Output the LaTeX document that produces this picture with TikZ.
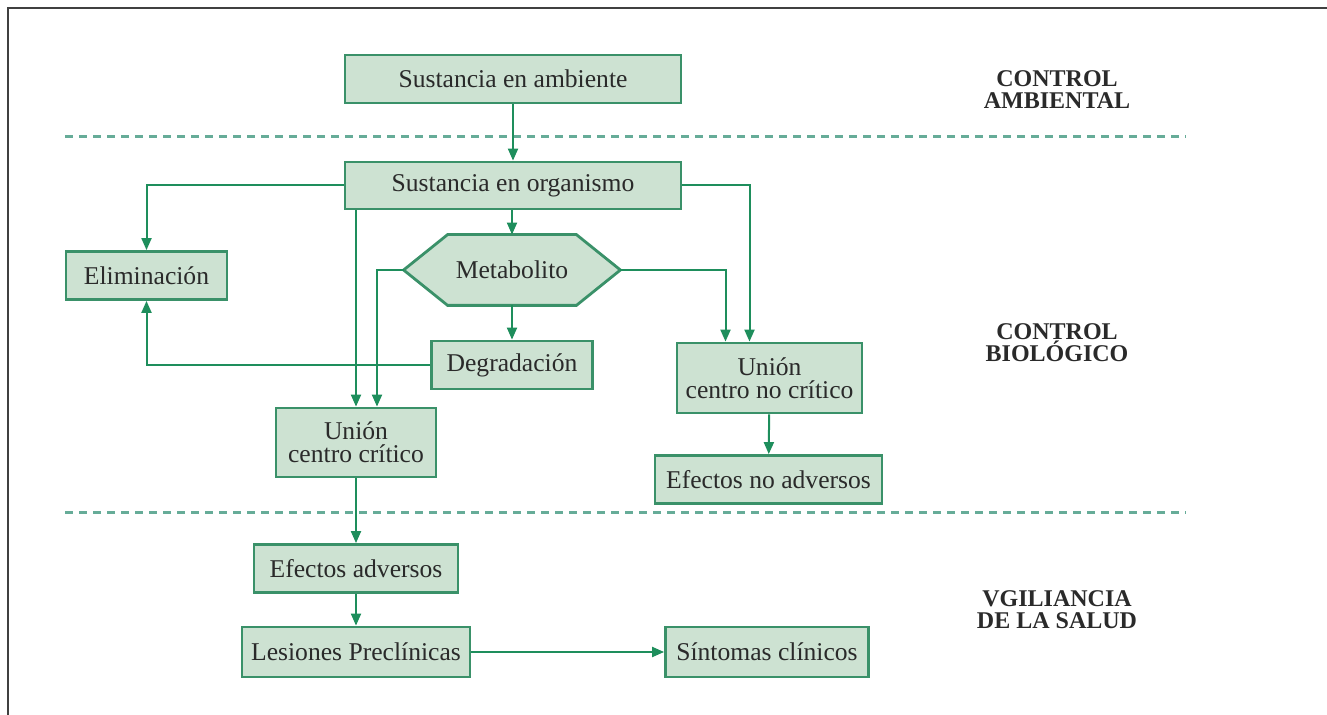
\documentclass[tikz,border=0pt]{standalone}
\usepackage{fontspec}
\setmainfont{Liberation Serif}
\usetikzlibrary{arrows.meta,backgrounds}
\definecolor{cajaBorde}{HTML}{3A9169}
\definecolor{cajaFondo}{HTML}{CDE2D2}
\definecolor{flechaVerde}{HTML}{1E8E5C}
\definecolor{rayaVerde}{HTML}{66AC98}
\definecolor{txtOscuro}{HTML}{2A2A2A}

\begin{document}
\begin{tikzpicture}[x=0.5pt, y=-0.5pt,
          caja/.style={draw=cajaBorde, line width=1.4pt, fill=cajaFondo, text=txtOscuro,
            font=\fontsize{12.8}{11.5}\selectfont, inner sep=2pt, minimum height=24pt, align=center},
          hexa/.style={text=txtOscuro, font=\fontsize{12.8}{11.5}\selectfont, inner sep=0pt,
            minimum width=108pt, minimum height=35pt},
          etiqueta/.style={text=txtOscuro, font=\fontsize{12}{11}\selectfont\bfseries, align=center},
          flecha/.style={-{Triangle[length=6pt,width=5pt]}, line width=1pt, flechaVerde},
          raya/.style={rayaVerde, line width=1.5pt, dash pattern=on 4pt off 3pt},
          marco/.style={draw=black!75, line width=1pt}]
        \useasboundingbox (0,0) rectangle (1327,715);
        \draw[marco] (8,715) -- (8,8) -- (1327,8);
        % separadores de zonas
        \draw[raya] (65,137) -- (1186,137);
        \draw[raya] (65,513) -- (1186,513);
        % etiquetas de zona
        \node[etiqueta] (zamb) at (1057,90) {CONTROL\\AMBIENTAL};
        \node[etiqueta] (zbio) at (1057,343) {CONTROL\\BIOLÓGICO};
        \node[etiqueta] (zsal) at (1057,610) {VGILIANCIA\\DE LA SALUD};
        % cajas
        \node[caja, minimum width=168pt] (amb) at (513,79) {Sustancia en ambiente};
        \node[caja, minimum width=168pt, minimum height=23.5pt] (org) at (513,185.5) {Sustancia en organismo};
        \node[caja, minimum width=80.5pt] (elim) at (146.5,275.5) {Eliminación};
        \node[hexa] (metab) at (512,270) {Metabolito};
        \begin{scope}[on background layer]
          \draw[draw=cajaBorde, line width=1.4pt, fill=cajaFondo]
            (metab.west) -- ([xshift=22pt]metab.north west) -- ([xshift=-22pt]metab.north east)
            -- (metab.east) -- ([xshift=-22pt]metab.south east) -- ([xshift=22pt]metab.south west) -- cycle;
        \end{scope}
        \node[caja, minimum width=80.5pt] (degr) at (512,365) {Degradación};
        \node[caja, minimum width=80pt, minimum height=34.5pt] (crit) at (356,442.5) {Unión\\centro crítico};
        \node[caja, minimum width=92.5pt, minimum height=35pt] (nocrit) at (769.5,378) {Unión\\centro no crítico};
        \node[caja, minimum width=113.5pt] (noadv) at (768.5,479.5) {Efectos no adversos};
        \node[caja, minimum width=102pt] (adv) at (356,568.5) {Efectos adversos};
        \node[caja, minimum width=114pt, minimum height=25pt] (les) at (356,652) {Lesiones Preclínicas};
        \node[caja, minimum width=101.5pt, minimum height=25pt] (sint) at (767,652) {Síntomas clínicos};
        % conexiones
        \draw[flecha] (amb) -- (org);
        \draw[flecha] (org.west) -| (elim.north);
        \draw[flecha] (org.south -| crit.north) -- (crit.north);
        \draw[flecha] (org.south -| metab.north) -- (metab.north);
        \draw[flecha] (org.east) -| ([xshift=-10pt]nocrit.north);
        \draw[flecha] (metab.west) -| ([xshift=10.5pt]crit.north);
        \draw[flecha] (metab.east) -| ([xshift=-22pt]nocrit.north);
        \draw[flecha] (metab.south) -- (degr.north);
        \draw[flecha] (degr.west) -| (elim.south);
        \draw[flecha] (crit) -- (adv);
        \draw[flecha] (nocrit) -- (noadv);
        \draw[flecha] (adv) -- (les);
        \draw[flecha] (les) -- (sint);
      \end{tikzpicture}
\end{document}
